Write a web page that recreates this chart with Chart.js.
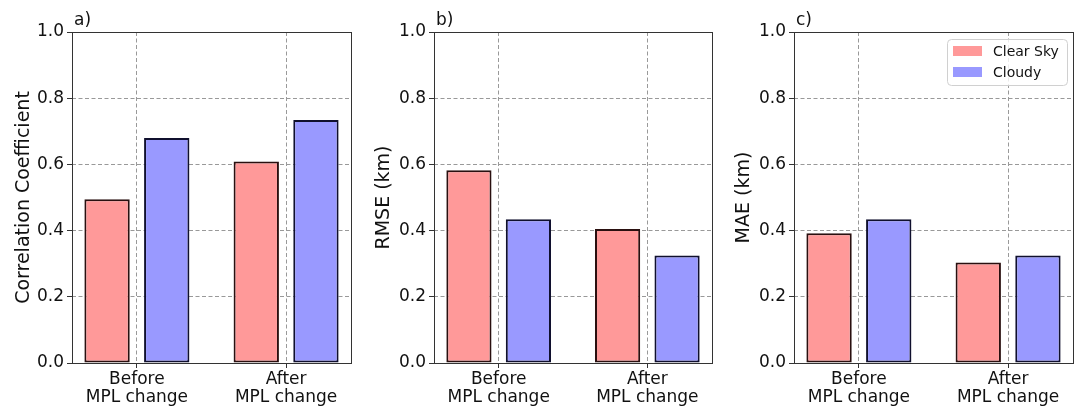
<!DOCTYPE html>
<html>
<head>
<meta charset="utf-8">
<script src="https://cdn.jsdelivr.net/npm/chart.js@4/dist/chart.umd.min.js"></script>
<style>
  body { margin: 0; background: #fff; }
  .panel { position: absolute; top: 0; height: 408px; }
</style>
</head>
<body>
<div class="panel" style="left:0;width:360px"><canvas id="chartA"></canvas></div>
<div class="panel" style="left:360px;width:360px"><canvas id="chartB"></canvas></div>
<div class="panel" style="left:720px;width:358px"><canvas id="chartC"></canvas></div>
<script>
// data
const categories = [['Before', 'MPL change'], ['After', 'MPL change']];
const seriesNames = ['Clear Sky', 'Cloudy'];
const corrClear = [0.495, 0.609];
const corrCloudy = [0.680, 0.734];
const rmseClear = [0.582, 0.405];
const rmseCloudy = [0.434, 0.325];
const maeClear = [0.392, 0.304];
const maeCloudy = [0.434, 0.325];
const yTicks = [0, 0.2, 0.4, 0.6, 0.8, 1.0];

const FONT = 'DejaVu Sans';
const clearFill = '#ff9999';
const cloudyFill = '#9999ff';

// box around the plot + panel letter
const framePlugin = {
    id: 'frame',
    afterDatasetsDraw(chart, args, opts) {
        const a = chart.chartArea;
        const ctx = chart.ctx;
        ctx.save();
        ctx.strokeStyle = '#333';
        ctx.lineWidth = 1;
        ctx.strokeRect(Math.round(a.left) + 0.5, Math.round(a.top) + 0.5,
            Math.round(a.right - a.left), Math.round(a.bottom - a.top));
        ctx.fillStyle = '#111';
        ctx.font = '17px ' + FONT;
        ctx.textBaseline = 'alphabetic';
        ctx.fillText(opts.label, a.left + 2, a.top - 7);
        ctx.restore();
    }
};

// matplotlib-like legend drawn inside the plot (panel c only)
const boxLegendPlugin = {
    id: 'boxLegend',
    afterDatasetsDraw(chart, args, opts) {
        if (!opts.show) return;
        const a = chart.chartArea;
        const ctx = chart.ctx;
        const w = 120, h = 46;
        const x = a.right - 6 - w, y = a.top + 7;
        ctx.save();
        ctx.beginPath();
        ctx.roundRect(x + 0.5, y + 0.5, w, h, 4);
        ctx.fillStyle = 'rgba(255,255,255,0.8)';
        ctx.fill();
        ctx.strokeStyle = '#d0d0d0';
        ctx.lineWidth = 1;
        ctx.stroke();
        ctx.font = '14px ' + FONT;
        ctx.textBaseline = 'middle';
        chart.data.datasets.forEach((ds, i) => {
            const cy = y + 12 + i * 21;
            ctx.fillStyle = ds.backgroundColor;
            ctx.fillRect(x + 6, cy - 5, 29, 10);
            ctx.fillStyle = '#111';
            ctx.fillText(ds.label, x + 46, cy + 1);
        });
        ctx.restore();
    }
};

function makeChart(id, clearVals, cloudyVals, yTitle, panel, axisWidth, rightPad, showLegend) {
    const ctx = document.getElementById(id);
    return new Chart(ctx, {
        type: 'bar',
        data: {
            datasets: [{
                label: seriesNames[0],
                data: clearVals.map((v, i) => ({ x: i, y: v })),
                backgroundColor: clearFill,
                borderColor: '#2a1010',
                borderWidth: 2,
                borderSkipped: false
            }, {
                label: seriesNames[1],
                data: cloudyVals.map((v, i) => ({ x: i, y: v })),
                backgroundColor: cloudyFill,
                borderColor: '#10102e',
                borderWidth: 2,
                borderSkipped: false
            }]
        },
        options: {
            responsive: true,
            maintainAspectRatio: false,
            animation: false,
            categoryPercentage: 0.8,
            barPercentage: 0.76,
            layout: { padding: { top: 32, right: rightPad, bottom: 0, left: 0 } },
            plugins: {
                legend: { display: false },
                tooltip: { enabled: false },
                frame: { label: panel },
                boxLegend: { show: showLegend }
            },
            scales: {
                x: {
                    type: 'linear',
                    offset: false,
                    min: -0.435,
                    max: 1.435,
                    afterBuildTicks: s => { s.ticks = categories.map((c, i) => ({ value: i })); },
                    afterFit: s => { s.height = 45; },
                    grid: {
                        offset: false,
                        color: '#999',
                        tickBorderDash: [],
                        tickColor: '#333',
                        tickLength: 5,
                        lineWidth: 1
                    },
                    border: { display: false, dash: [4, 2.5] },
                    ticks: {
                        autoSkip: false,
                        maxRotation: 0,
                        padding: 2,
                        color: '#111',
                        font: { family: FONT, size: 17, lineHeight: 1.1 },
                        callback: v => categories[v]
                    }
                },
                y: {
                    min: 0,
                    max: 1,
                    afterBuildTicks: s => { s.ticks = yTicks.map(v => ({ value: v })); },
                    afterFit: s => { s.width = axisWidth; },
                    grid: {
                        color: '#999',
                        tickBorderDash: [],
                        tickColor: '#333',
                        tickLength: 5,
                        lineWidth: 1
                    },
                    border: { display: false, dash: [4, 2.5] },
                    ticks: {
                        padding: 3,
                        color: '#111',
                        font: { family: FONT, size: 17 },
                        callback: v => v.toFixed(1)
                    },
                    title: {
                        display: true,
                        text: yTitle,
                        color: '#111',
                        font: { family: FONT, size: 19 },
                        padding: { top: 13, bottom: 0 }
                    }
                }
            }
        },
        plugins: [framePlugin, boxLegendPlugin]
    });
}

makeChart('chartA', corrClear, corrCloudy, 'Correlation Coefficient', 'a)', 72, 9, false);
makeChart('chartB', rmseClear, rmseCloudy, 'RMSE (km)', 'b)', 74, 8, false);
makeChart('chartC', maeClear, maeCloudy, 'MAE (km)', 'c)', 74, 5, true);
</script>
</body>
</html>
